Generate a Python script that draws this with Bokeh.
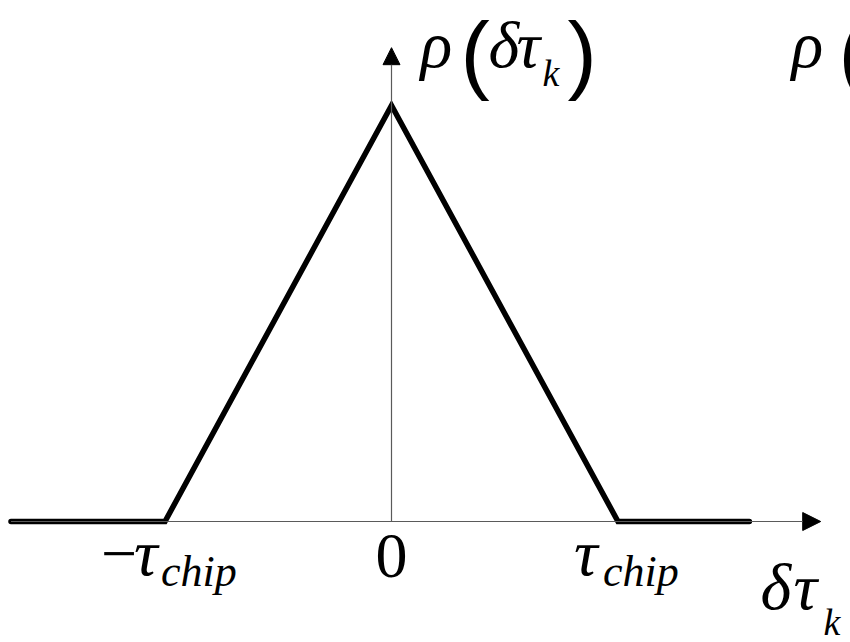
from bokeh.plotting import figure
from bokeh.models import Range1d, Arrow, NormalHead
from bokeh.core.properties import value
from bokeh.embed import file_html
from bokeh.resources import INLINE

# ---- data (delay in units of tau_chip, normalised correlation) ----
delay = [-1.68, -1.0, 0.0, 1.0, 1.58]
rho = [0.0, 0.0, 1.0, 0.0, 0.0]
tick_values = [-1.0, 0.0, 1.0]
x_axis_end = 1.895
y_axis_end = 1.139

# ---- layout helpers: image pixel -> data coordinates ----
X0, SX = 391.0, 226.5   # pixel of delay 0, pixels per tau_chip
Y0, SY = 521.0, 416.0   # pixel of rho 0, pixels per unit rho


def X(px):
    return (px - X0) / SX


def Y(py):
    return (Y0 - py) / SY


W, H = 850, 642
p = figure(width=W, height=H, output_backend="svg", toolbar_location=None,
           x_range=Range1d(X(0), X(W)), y_range=Range1d(Y(H), Y(0)),
           min_border=0, outline_line_color=None, background_fill_color="white",
           border_fill_color="white")
p.xaxis.visible = False
p.yaxis.visible = False
p.grid.visible = False

AX = "#5a5a5a"
# horizontal axis with arrow
p.add_layout(Arrow(x_start=delay[0], y_start=0, x_end=x_axis_end, y_end=0,
                   line_color=AX, line_width=1.2,
                   end=NormalHead(size=18, fill_color="black", line_color="black", line_width=1)))
# vertical axis with arrow
p.add_layout(Arrow(x_start=0, y_start=0, x_end=0, y_end=y_axis_end,
                   line_color=AX, line_width=1.2,
                   end=NormalHead(size=17, fill_color="black", line_color="black", line_width=1)))

# correlation triangle
p.line(delay, rho, line_color="black", line_width=5.5, line_join="miter", line_cap="round")

FONT = "Liberation Serif"
PAREN_FONT = "Liberation Sans"
BASE_FIX = 0.39  # measured offset of the rendered baseline, in em


def txt(s, px, py, size, italic=True, align="left", font=FONT):
    p.text(x=[X(px)], y=[Y(py - BASE_FIX * size)], text=[s], text_font=value(font),
           text_font_size=f"{size}px", text_font_style="italic" if italic else "normal",
           text_color="black", text_align=align, text_baseline="alphabetic")


# tick label positions follow the tick values
tm, t0, tp = [X0 + v * SX for v in tick_values]

# "-tau_chip"
txt("\u2212", tm - 64, 578, 64, italic=False)
txt("\u03c4", tm - 31, 578, 66)
txt("chip", tm - 4, 588, 44)
# "0"
txt("0", t0, 580, 64, italic=False, align="center")
# "tau_chip"
txt("\u03c4", tp - 44, 578, 66)
txt("chip", tp - 15, 588, 44)

# y-axis label rho(delta tau_k)
txt("\u03c1", 420, 70, 66)
txt("(", 460, 86, 88, italic=False, font=PAREN_FONT)
txt("\u03b4", 488, 70, 66)
txt("\u03c4", 516, 70, 66)
txt("k", 542, 87, 38)
txt(")", 567, 86, 88, italic=False, font=PAREN_FONT)

# second, cut-off rho( at right edge
txt("\u03c1", 791, 70, 66)
txt("(", 838, 86, 88, italic=False, font=PAREN_FONT)

# x-axis label delta tau_k
txt("\u03b4", 760, 612, 66)
txt("\u03c4", 793, 612, 66)
txt("k", 823, 636, 38)

open("out.html", "w").write(file_html(p, INLINE))
